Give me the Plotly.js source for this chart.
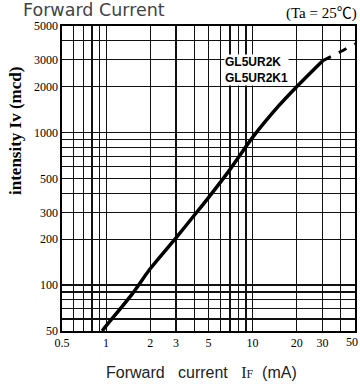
<!DOCTYPE html>
<html><head><meta charset="utf-8">
<script src="https://cdn.plot.ly/plotly-3.0.1.min.js"></script>
<style>html,body{margin:0;padding:0;background:#fff}#c{width:360px;height:386px}</style>
</head><body><div id="c"></div>
<script>
// Data
const currentSolid = [0.94, 1, 1.5, 2, 3, 4, 5, 7, 10, 15, 20, 30];
const intensitySolid = [50, 54, 87, 128, 204, 287, 375, 572, 930, 1490, 2000, 2950];
const currentDashed = [30, 40, 50];
const intensityDashed = [2950, 3400, 3820];
const xGrid = [0.5,0.6,0.7,0.8,0.9,1,2,3,4,5,6,7,8,9,10,20,30,40,50];
const xLabeled = [0.5,1,2,3,5,10,20,30];
const yGrid = [50,60,70,80,90,100,200,300,400,500,600,700,800,900,1000,2000,3000,4000,5000];
const yLabeled = [50,100,200,300,500,1000,2000,3000,5000];
const seriesLabel = "GL5UR2K<br>GL5UR2K1";

const L=62,R=5,T=26,B=55,W=360,H=386;
const pw=W-L-R, ph=H-T-B;
const px=x=>(x-L)/pw, py=y=>(H-B-y)/ph;

const traces=[
 {x:currentSolid,y:intensitySolid,mode:'lines',line:{color:'#000',width:3.5,shape:'spline',smoothing:0.8},hoverinfo:'skip',showlegend:false},
 {x:currentDashed,y:intensityDashed,mode:'lines',line:{color:'#000',width:3,dash:'dash',shape:'spline'},hoverinfo:'skip',showlegend:false}
];
const tickFont={family:'Liberation Serif, Times New Roman, serif',size:12,color:'#000'};
const layout={
 width:W,height:H,margin:{l:L,r:R,t:T,b:B},
 paper_bgcolor:'#fff',plot_bgcolor:'#fff',
 xaxis:{type:'log',range:[Math.log10(0.5),Math.log10(50)],tickmode:'array',tickvals:xGrid,
   ticktext:xGrid.map(v=>xLabeled.includes(v)?String(v):''),showgrid:true,gridcolor:'#111',gridwidth:1.2,
   showline:true,linecolor:'#000',linewidth:1.6,mirror:true,ticks:'',tickfont:tickFont,zeroline:false,fixedrange:true},
 yaxis:{type:'log',range:[Math.log10(50),Math.log10(5000)],tickmode:'array',tickvals:yGrid,
   ticktext:yGrid.map(v=>yLabeled.includes(v)?String(v):''),showgrid:true,gridcolor:'#111',gridwidth:1.2,
   showline:true,linecolor:'#000',linewidth:1.6,mirror:true,ticks:'',tickfont:tickFont,zeroline:false,fixedrange:true},
 annotations:[
  {text:'Forward Current',xref:'paper',yref:'paper',x:px(22),y:py(10),xanchor:'left',yanchor:'middle',showarrow:false,
   borderpad:0,font:{family:'DejaVu Sans, Liberation Sans, sans-serif',size:17.5,color:'#444'}},
  {text:'(Ta = 25℃)',xref:'paper',yref:'paper',x:px(359),y:py(13),xanchor:'right',yanchor:'middle',showarrow:false,
   font:{family:'Liberation Serif, Noto Sans CJK SC, serif',size:15,color:'#000'}},
  {text:'50',xref:'paper',yref:'paper',x:px(360),y:py(342),xanchor:'right',yanchor:'middle',showarrow:false,
   font:tickFont},
  {text:seriesLabel,xref:'paper',yref:'paper',x:px(224),y:py(70.5),xanchor:'left',yanchor:'middle',align:'left',showarrow:false,
   bgcolor:'#fff',borderpad:0,
   font:{family:'Liberation Sans, Arial, sans-serif',size:12,color:'#000',weight:'bold'}},
  {text:'intensity Iv (mcd)',xref:'paper',yref:'paper',x:px(15),y:py(131),xanchor:'center',yanchor:'middle',textangle:-90,showarrow:false,
   font:{family:'Liberation Serif, Times New Roman, serif',size:17,color:'#000',weight:'bold'}},
  {text:'Forward&nbsp;&nbsp;&nbsp;current&nbsp;&nbsp;&nbsp;<span style="font-family:Liberation Serif">I</span><span style="font-family:Liberation Serif;font-size:12px">F</span>&nbsp;&nbsp;(mA)',
   xref:'paper',yref:'paper',x:px(201),y:py(372),xanchor:'center',yanchor:'middle',showarrow:false,
   font:{family:'Liberation Sans, Arial, sans-serif',size:16,color:'#222'}}
 ]
};
Plotly.newPlot('c',traces,layout,{staticPlot:true,displayModeBar:false});
</script></body></html>
